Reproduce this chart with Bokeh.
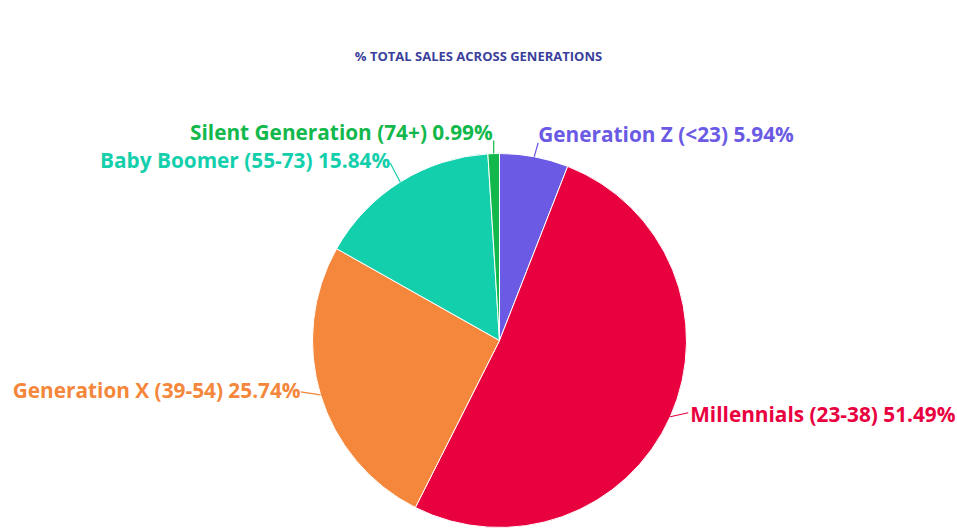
import math
from bokeh.plotting import figure
from bokeh.models import Range1d, ColumnDataSource
from bokeh.core.properties import value
from bokeh.embed import file_html
from bokeh.resources import INLINE

# ---- data ----
generations = ["Generation Z (<23)", "Millennials (23-38)", "Generation X (39-54)",
               "Baby Boomer (55-73)", "Silent Generation (74+)"]
shares = [5.94, 51.49, 25.74, 15.84, 0.99]
colors = ["#6a5ae4", "#e8003f", "#f4873b", "#13cfac", "#13b84c"]
title_text = "% TOTAL SALES ACROSS GENERATIONS"

# ---- layout (pixel space, y up) ----
W, H = 957, 529
CX, CY, R = 499, 189, 187
FONT = "Open Sans"
# label layout: (leader end dx, dy), (text dx, dy from leader end), align
label_layout = [
    ((4, 14), (0, 9), "left"),
    ((18, 4), (2, -1), "left"),
    ((-20, 3), (0, 2), "right"),
    ((-10, 19), (0, 3), "right"),
    ((0, 13), (-1, 9), "right"),
]

total = sum(shares)
starts, ends, mids = [], [], []
acc = 0.0
for s in shares:
    a0 = acc / total * 2 * math.pi
    acc += s
    a1 = acc / total * 2 * math.pi
    # clockwise from 12 o'clock; bokeh angles are counter-clockwise from +x
    starts.append(math.pi / 2 - a0)
    ends.append(math.pi / 2 - a1)
    mids.append((a0 + a1) / 2)

p = figure(width=W, height=H, output_backend="svg", toolbar_location=None,
           x_range=Range1d(0, W), y_range=Range1d(0, H), min_border=0)
p.axis.visible = False
p.grid.visible = False
p.outline_line_color = None
p.background_fill_color = "white"

src = ColumnDataSource(dict(x=[CX] * len(shares), y=[CY] * len(shares),
                            start=starts, end=ends, color=colors))
p.wedge(x="x", y="y", radius=R, start_angle="end", end_angle="start",
        fill_color="color", line_color="white", line_width=1, source=src)

lx0, ly0, lx1, ly1, tx, ty, texts, aligns = [], [], [], [], [], [], [], []
for i, (g, s) in enumerate(zip(generations, shares)):
    m = mids[i]
    px, py = CX + R * math.sin(m), CY + R * math.cos(m)
    (dx, dy), (tdx, tdy), al = label_layout[i]
    ex, ey = px + dx, py + dy
    lx0.append(px); ly0.append(py); lx1.append(ex); ly1.append(ey)
    tx.append(ex + tdx); ty.append(ey + tdy)
    texts.append(f"{g} {s:.2f}%")
    aligns.append(al)

p.segment(x0=lx0, y0=ly0, x1=lx1, y1=ly1, line_color=colors, line_width=1.2)
lab = ColumnDataSource(dict(x=tx, y=ty, t=texts, c=colors, a=aligns))
p.text(x="x", y="y", text="t", text_color="c", text_align="a",
       text_baseline="middle", text_font=value(FONT), text_font_style="bold",
       text_font_size="20.8px", source=lab)

p.text(x=[478], y=[H - 55], text=[title_text], text_color="#3b3f9c",
       text_align="center", text_baseline="middle", text_font=value(FONT),
       text_font_style="bold", text_font_size="13px")

open("out.html", "w").write(file_html(p, INLINE))
